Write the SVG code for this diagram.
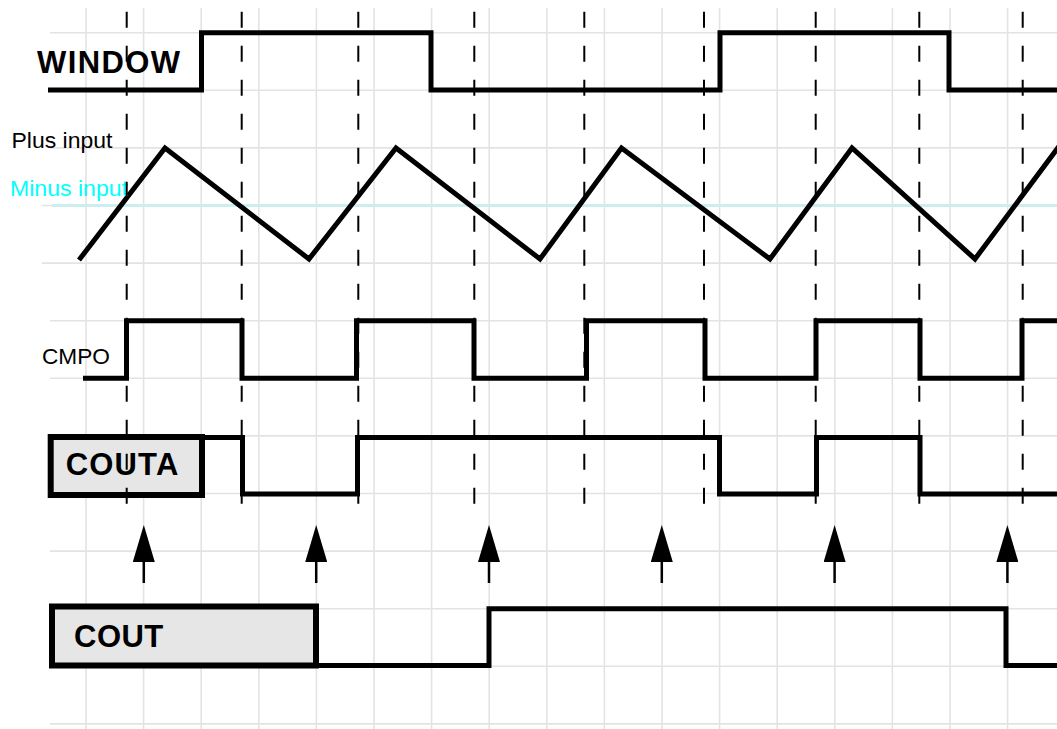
<svg xmlns="http://www.w3.org/2000/svg" width="1057" height="729" viewBox="0 0 1057 729">
<style>
.grid{stroke:#e3e3e3;stroke-width:1.6;fill:none}
.dash{stroke:#000;stroke-width:2;stroke-dasharray:16 18;fill:none}
.wave{stroke:#000;stroke-width:5;fill:none;stroke-linejoin:miter;stroke-linecap:butt}
.box{fill:#e6e6e6;stroke:#000;stroke-width:6}
.lbl{font-family:"Liberation Sans",Arial,sans-serif;font-size:22px;fill:#000}
.big{font-family:"Liberation Sans",Arial,sans-serif;font-size:31px;font-weight:bold;fill:#000}
.arrow{stroke:#000;stroke-width:2.5}
</style>
<defs>
<marker id="ah" viewBox="0 0 37 22" markerWidth="37" markerHeight="22" refX="0" refY="11" orient="auto" markerUnits="userSpaceOnUse">
<path d="M0 0 L37 11 L0 22 Z" fill="#000"/>
</marker>
</defs>
<rect width="1057" height="729" fill="#fff"/>
<g id="grid">
<path class="grid" d="M86 8V729M143.6 8V729M201.2 8V729M258.8 8V729M316.4 8V729M374 8V729M431.6 8V729M489.2 8V729M546.8 8V729M604.4 8V729M662 8V729M719.6 8V729M777.2 8V729M834.8 8V729M892.4 8V729M950 8V729M1007.6 8V729"/>
<path class="grid" d="M50 32.7H1057M50 90.3H1057M50 147.9H1057M42 205.5H1057M42 263.1H1057M50 320.7H1057M50 378.3H1057M50 435.9H1057M50 493.5H1057M50 551.1H1057M50 608.7H1057M50 666.3H1057M50 723.9H1057"/>
</g>
<line id="minus-level" x1="52" y1="205.5" x2="1057" y2="205.5" stroke="#cdeeee" stroke-width="3"/>
<g id="window-signal">
<path class="wave" d="M48 90H201.5V32.7H431V90H720V32.7H949V90H1057"/>
<text class="big" x="37" y="72.7" textLength="143" lengthAdjust="spacing">WINDOW</text>
</g>
<g id="plus-input">
<path class="wave" d="M79 260L165 148L309 259L396 148L540 259L621.5 148L770 259L852 148L975 259L1060 145"/>
<text class="lbl" x="11.5" y="148.3" textLength="101" lengthAdjust="spacingAndGlyphs">Plus input</text>
</g>
<g id="minus-input">
<text class="lbl" x="10" y="196" style="fill:#00ffff" textLength="118" lengthAdjust="spacingAndGlyphs">Minus input</text>
</g>
<g id="cmpo">
<path class="wave" d="M83 378.3H126.5V320.7H242V378.3H356.5V320.7H474V378.3H586.5V320.7H705V378.3H816V320.7H920V378.3H1022V320.7H1057"/>
<text class="lbl" x="42" y="364.3" textLength="68" lengthAdjust="spacingAndGlyphs">CMPO</text>
</g>
<g id="couta">
<path class="wave" d="M200 437.5H242.5V494H357.5V437.5H719.5V494H816.5V437.5H920V494H1057"/>
<rect class="box" x="50.7" y="437" width="151.3" height="58"/>
<text class="big" x="65.7" y="475" textLength="112.6" lengthAdjust="spacing">COUTA</text>
</g>
<g id="cout">
<path class="wave" d="M314 665.5H489V608.7H1006V665.5H1057"/>
<rect class="box" x="52" y="606.5" width="264" height="59"/>
<text class="big" x="74" y="646.7" textLength="89.3" lengthAdjust="spacing">COUT</text>
</g>
<g id="connectors">
<path class="dash" d="M126.7 11.7V505M241.7 11.7V505M358.3 11.7V505M474.3 11.7V505M584.3 11.7V505M704 11.7V505M815.7 11.7V505M919.3 11.7V505M1022.7 11.7V505"/>
<line class="arrow" x1="143.8" y1="583" x2="143.8" y2="562" marker-end="url(#ah)"/>
<line class="arrow" x1="316.2" y1="583" x2="316.2" y2="562" marker-end="url(#ah)"/>
<line class="arrow" x1="489" y1="583" x2="489" y2="562" marker-end="url(#ah)"/>
<line class="arrow" x1="661.8" y1="583" x2="661.8" y2="562" marker-end="url(#ah)"/>
<line class="arrow" x1="834.6" y1="583" x2="834.6" y2="562" marker-end="url(#ah)"/>
<line class="arrow" x1="1007.4" y1="583" x2="1007.4" y2="562" marker-end="url(#ah)"/>
</g>
</svg>
